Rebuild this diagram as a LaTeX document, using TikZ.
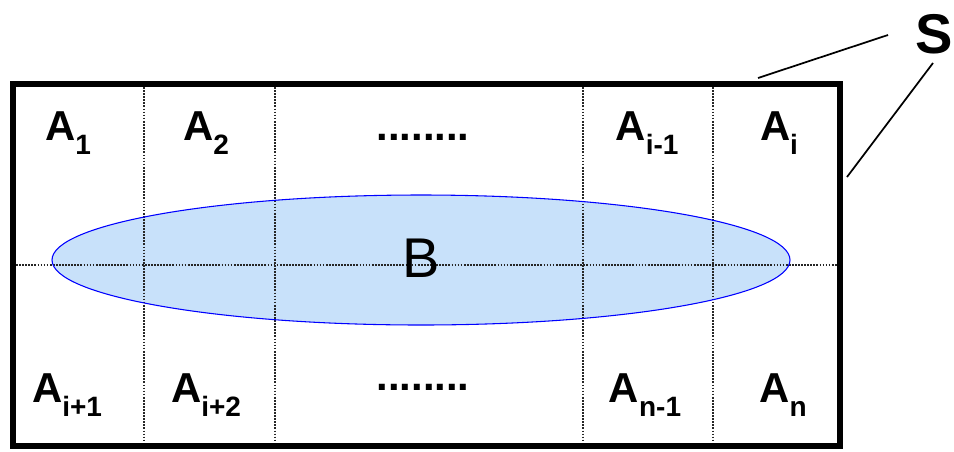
\documentclass[tikz,border=0pt]{standalone}
\usepackage{fontspec}
\setmainfont{Liberation Sans}
\usetikzlibrary{positioning}
\definecolor{setblue}{RGB}{200,225,250}
\newcommand{\Asub}[1]{A\raisebox{-10.5pt}{\fontsize{21}{21}\selectfont #1}}

\begin{document}
\begin{tikzpicture}[x=0.75pt,y=-0.75pt,
    cell/.style={inner sep=0pt,anchor=base,font=\fontsize{31.4}{32}\selectfont\bfseries},
    grid/.style={densely dotted,line width=1.3pt,black!85},
    frame/.style={line width=5pt,black}]
    \useasboundingbox (0,0) rectangle (954,451);

    % the set B
    \fill[setblue] (421,260) ellipse [x radius=276.75pt, y radius=48.75pt];

    % frame corners and grid points
    \coordinate (nw) at (13,84);
    \coordinate (se) at (840,446);
    \coordinate (ml) at (13,265);
    \coordinate (mr) at (840,265);
    \draw[grid] (ml) -- (mr);
    \draw[grid] (144,84) -- (144,446);
    \draw[grid] (275,84) -- (275,446);
    \draw[grid] (583,84) -- (583,446);
    \draw[grid] (713,84) -- (713,446);
    \draw[blue,line width=0.8pt] (421,260) ellipse [x radius=276.75pt, y radius=48.75pt];
    \draw[frame] (nw) rectangle (se);

    \node[font=\fontsize{42}{42}\selectfont,inner sep=0pt,anchor=base] (B) at (421,277) {B};

    % top row
    \node[cell] (A1) at (68,140) {\Asub{1}};
    \node[cell] (A2) at (206,140) {\Asub{2}};
    \node[cell] (dt) at (423,140) {........};
    \node[cell] (Aim) at (647,140) {\Asub{i-1}};
    \node[cell] (Ai) at (779,140) {\Asub{i}};

    % bottom row
    \node[cell] (Aip) at (67,402) {\Asub{i+1}};
    \node[cell] (Aipp) at (206,402) {\Asub{i+2}};
    \node[cell] (db) at (423,390) {........};
    \node[cell] (Anm) at (645,402) {\Asub{n-1}};
    \node[cell] (An) at (783,402) {\Asub{n}};

    % label S
    \node[font=\fontsize{42}{42}\selectfont\bfseries,inner sep=0pt,anchor=base west] (S) at (915,53) {S};
    \coordinate (sa) at (888,35);
    \coordinate (sb) at (933,63);
    \coordinate (stop) at (758,78);
    \coordinate (sright) at (847,177);
    \draw[line width=1.3pt] (sa) -- (stop);
    \draw[line width=1.3pt] (sb) -- (sright);
\end{tikzpicture}
\end{document}
